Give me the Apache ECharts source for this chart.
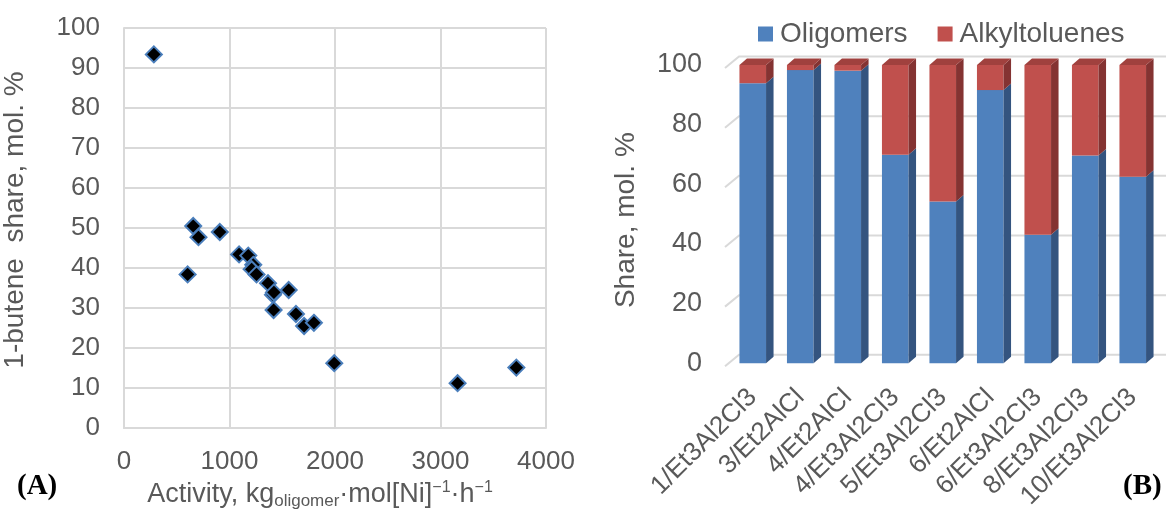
<!DOCTYPE html>
<html>
<head>
<meta charset="utf-8">
<script src="https://cdn.jsdelivr.net/npm/echarts@6/dist/echarts.min.js"></script>
<style>
html,body{margin:0;padding:0;background:#fff;}
#c{width:1166px;height:516px;}
</style>
</head>
<body>
<div id="c"></div>
<script>
// ---- Panel A data (scatter) ----
const activity = [283, 656, 706, 908, 603, 1091, 1178, 1225, 1210, 1256, 1365, 1412, 1421, 1561, 1418, 1630, 1707, 1800, 1993, 3162, 3719];
const buteneShare = [93.4, 50.5, 47.7, 49.0, 38.4, 43.4, 43.1, 40.8, 39.7, 38.4, 36.2, 33.3, 33.9, 34.5, 29.5, 28.5, 25.5, 26.3, 16.2, 11.2, 15.1];
const activityTicks = [0, 1000, 2000, 3000, 4000];
const buteneTicks = [0, 10, 20, 30, 40, 50, 60, 70, 80, 90, 100];

// ---- Panel B data (stacked 3D columns) ----
const systems = ['1/Et3Al2Cl3', '3/Et2AlCl', '4/Et2AlCl', '4/Et3Al2Cl3', '5/Et3Al2Cl3', '6/Et2AlCl', '6/Et3Al2Cl3', '8/Et3Al2Cl3', '10/Et3Al2Cl3'];
const oligomers = [93.9, 98.3, 98.1, 69.9, 54.2, 91.6, 43.1, 69.7, 62.5];
const alkyltoluenes = [6.1, 1.7, 1.9, 30.1, 45.8, 8.4, 56.9, 30.3, 37.5];
const shareTicks = [0, 20, 40, 60, 80, 100];

const FONT = 'Liberation Sans, Arial, sans-serif';
const GREY = '#595959';
const GRID = '#d9d9d9';

const chart = echarts.init(document.getElementById('c'), null, {renderer: 'canvas'});

const DX = 7.5, DY = 6.5;
function barRenderer(front, side, topColor) {
  return function (params, api) {
    const idx = api.value(0), v0 = api.value(1), v1 = api.value(2);
    const pb = api.coord([idx, v0]);
    const pt = api.coord([idx, v1]);
    const bw = api.size([1, 0])[0] * 0.56;
    const xl = pb[0] - bw / 2, xr = pb[0] + bw / 2;
    const children = [
      {type: 'rect', shape: {x: xl, y: pt[1], width: bw, height: pb[1] - pt[1]}, style: {fill: front}},
      {type: 'polygon', shape: {points: [[xr, pb[1]], [xr + DX, pb[1] - DY], [xr + DX, pt[1] - DY], [xr, pt[1]]]}, style: {fill: side}}
    ];
    if (topColor) {
      children.push({type: 'polygon', shape: {points: [[xl, pt[1]], [xr, pt[1]], [xr + DX, pt[1] - DY], [xl + DX, pt[1] - DY]]}, style: {fill: topColor}});
    }
    return {type: 'group', children: children};
  };
}

const option = {
  animation: false,
  backgroundColor: '#ffffff',
  textStyle: {fontFamily: FONT},
  legend: {
    data: ['Oligomers', 'Alkyltoluenes'],
    left: 753, top: 15,
    icon: 'rect', itemWidth: 15, itemHeight: 15, itemGap: 30,
    textStyle: {fontSize: 28, color: GREY, fontFamily: FONT, padding: [0, 0, 0, 2]}
  },
  grid: [
    {left: 117, top: 28, width: 429, height: 400},
    {left: 729, top: 65, width: 427.5, height: 298.3}
  ],
  xAxis: [
    {
      gridIndex: 0, type: 'value', min: 0, max: 4000, interval: 1000,
      axisLine: {show: true, lineStyle: {color: GRID, width: 2}},
      axisTick: {show: false},
      splitLine: {show: true, lineStyle: {color: GRID, width: 2}},
      axisLabel: {fontSize: 26, color: GREY, margin: 21, fontFamily: FONT, formatter: v => String(v)},
      name: '{b|Activity, kg}{s|oligomer}{b|·mol[Ni]}{p|−1}{b|·h}{p|−1}',
      nameLocation: 'middle', nameGap: 52,
      nameTextStyle: {
        padding: [0, 30, 0, 0],
        rich: {
          b: {fontSize: 27, color: GREY, lineHeight: 30, fontFamily: FONT},
          s: {fontSize: 17, color: GREY, lineHeight: 16, verticalAlign: 'bottom', fontFamily: FONT},
          p: {fontSize: 16, color: GREY, lineHeight: 20, verticalAlign: 'top', fontFamily: FONT}
        }
      }
    },
    {
      gridIndex: 1, type: 'category', data: systems,
      axisLine: {show: false}, axisTick: {show: false},
      splitLine: {show: false},
      axisLabel: {rotate: 45, fontSize: 26, color: GREY, margin: 30, interval: 0, fontFamily: FONT}
    }
  ],
  yAxis: [
    {
      gridIndex: 0, type: 'value', min: 0, max: 100, interval: 10,
      axisLine: {show: true, lineStyle: {color: GRID, width: 2}},
      axisTick: {show: false},
      splitLine: {show: true, lineStyle: {color: GRID, width: 2}},
      axisLabel: {fontSize: 26, color: GREY, margin: 24, fontFamily: FONT},
      name: '1-butene  share, mol. %',
      nameLocation: 'middle', nameGap: 95,
      nameTextStyle: {fontSize: 28, color: GREY, padding: [0, 0, 0, 16], fontFamily: FONT}
    },
    {
      gridIndex: 1, type: 'value', min: 0, max: 100, interval: 20,
      axisLine: {show: false}, axisTick: {show: false},
      splitLine: {show: false},
      axisLabel: {fontSize: 27, color: GREY, margin: 27, padding: [10, 0, 0, 0], fontFamily: FONT},
      name: 'Share, mol. %',
      nameLocation: 'middle', nameGap: 89,
      nameTextStyle: {fontSize: 28, color: GREY, padding: [0, 12, 0, 0], fontFamily: FONT}
    }
  ],
  series: [
    {
      type: 'scatter', xAxisIndex: 0, yAxisIndex: 0,
      data: activity.map((a, i) => [a, buteneShare[i]]),
      symbol: 'diamond', symbolSize: 16,
      itemStyle: {color: '#000000', borderColor: '#4a7ebb', borderWidth: 2, opacity: 1},
      z: 5
    },
    {
      type: 'custom', name: 'backgrid', xAxisIndex: 1, yAxisIndex: 1, silent: true, clip: false, z: 1,
      data: shareTicks.map(v => [0, v]),
      renderItem: function (params, api) {
        const p = api.coord([0, api.value(1)]);
        const band = api.size([1, 0])[0];
        const xLeft = p[0] - band / 2;
        return {
          type: 'polyline',
          shape: {points: [[xLeft - 4, p[1] + 3], [xLeft + 10, p[1] - 8.5], [api.getWidth(), p[1] - 8.5]]},
          style: {stroke: GRID, lineWidth: 2, fill: null}
        };
      }
    },
    {
      type: 'custom', name: 'Oligomers', xAxisIndex: 1, yAxisIndex: 1, clip: false, z: 3,
      itemStyle: {color: '#4f81bd'},
      encode: {x: 0, y: [1, 2]},
      data: oligomers.map((v, i) => [i, 0, v]),
      renderItem: barRenderer('#4f81bd', '#34547f', null)
    },
    {
      type: 'custom', name: 'Alkyltoluenes', xAxisIndex: 1, yAxisIndex: 1, clip: false, z: 3,
      itemStyle: {color: '#c0504d'},
      encode: {x: 0, y: [1, 2]},
      data: alkyltoluenes.map((v, i) => [i, oligomers[i], oligomers[i] + v]),
      renderItem: barRenderer('#c0504d', '#843332', '#a0413e')
    }
  ],
  graphic: [
    {type: 'text', left: 17, top: 472, style: {text: '(A)', font: 'bold 29px "Liberation Serif", "Times New Roman", serif', fill: '#000'}},
    {type: 'text', left: 1123, top: 472, style: {text: '(B)', font: 'bold 29px "Liberation Serif", "Times New Roman", serif', fill: '#000'}}
  ]
};
chart.setOption(option);
</script>
</body>
</html>
